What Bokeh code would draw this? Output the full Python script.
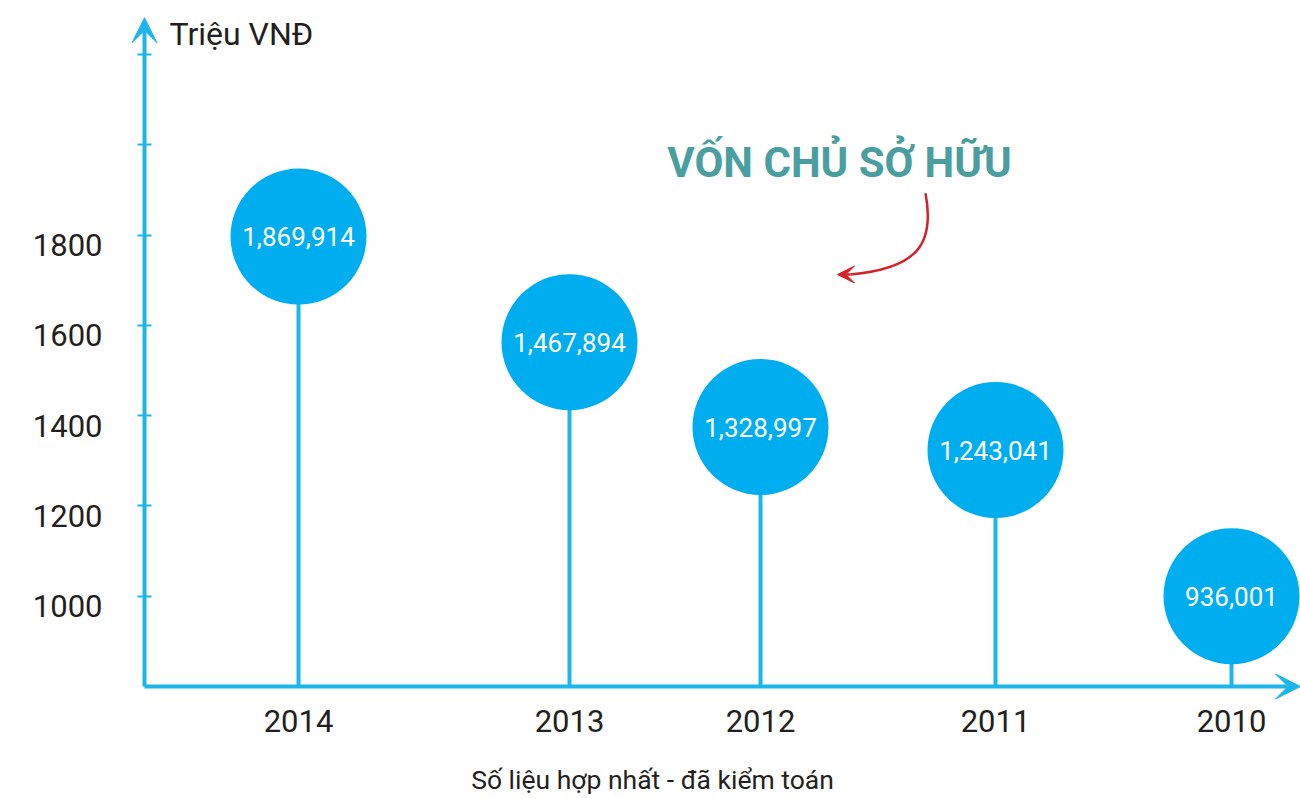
from bokeh.plotting import figure
from bokeh.models import Range1d, FixedTicker, Arrow, VeeHead, Label, ColumnDataSource, LinearAxis
from bokeh.core.properties import value
from bokeh.embed import file_html
from bokeh.resources import INLINE

# ---- data ----
years = ["2014", "2013", "2012", "2011", "2010"]
equity = [1869914, 1467894, 1328997, 1243041, 936001]          # Triệu VNĐ (bubble labels)
timeline_pos = [154, 425, 616, 851, 1087]                        # position along the time axis
bubble_level = [1797, 1563, 1375, 1324, 1000]                    # bubble height read on the y axis
y_ticks = [1000, 1200, 1400, 1600, 1800, 2000, 2200]
y_tick_labels = ["1000", "1200", "1400", "1600", "1800", "", ""]

AXIS = "#1cb6ec"
BUBBLE = "#00aeef"
TEXT = "#231f20"
FONT = "Roboto"

Y_ORIGIN, Y_TIP = 800, 2282
X_ORIGIN, X_TIP = 0, 1156
LABEL_DROP = 22   # tick labels sit slightly below their tick marks (in y units)

p = figure(width=1300, height=798, output_backend="svg", toolbar_location=None,
           x_range=Range1d(-144, 1156), y_range=Range1d(551.8, 2320.2),
           min_border_left=0, min_border_right=0, min_border_top=0, min_border_bottom=0)
p.outline_line_color = None
p.grid.visible = False
p.background_fill_color = "white"
p.border_fill_color = "white"

# y axis: tick marks
ya = p.yaxis[0]
ya.fixed_location = X_ORIGIN
ya.ticker = FixedTicker(ticks=y_ticks)
ya.major_label_text_font_size = "0px"
ya.major_label_text_alpha = 0
ya.axis_line_color = None
ya.major_tick_line_color = AXIS
ya.major_tick_line_width = 2
ya.major_tick_in = 7
ya.major_tick_out = 7
ya.minor_tick_line_color = None

# y axis: tick labels
label_pos = [t - LABEL_DROP for t in y_ticks]
ya2 = LinearAxis(fixed_location=X_ORIGIN, ticker=FixedTicker(ticks=label_pos),
                 major_label_overrides={lp: l for lp, l in zip(label_pos, y_tick_labels)},
                 axis_line_color=None, major_tick_line_color=None, minor_tick_line_color=None,
                 major_tick_in=0, major_tick_out=0, major_label_standoff=42,
                 major_label_text_font=FONT, major_label_text_font_size="31px",
                 major_label_text_color=TEXT)
p.add_layout(ya2, "left")

# x axis
xa = p.xaxis[0]
xa.fixed_location = Y_ORIGIN
xa.ticker = FixedTicker(ticks=timeline_pos)
xa.major_label_overrides = {t: y for t, y in zip(timeline_pos, years)}
xa.axis_line_color = None
xa.major_tick_line_color = None
xa.minor_tick_line_color = None
xa.major_tick_in = 0
xa.major_tick_out = 0
xa.major_label_standoff = 24
xa.major_label_text_font = FONT
xa.major_label_text_font_size = "31px"
xa.major_label_text_color = TEXT

# axis lines with arrow heads
p.add_layout(Arrow(end=VeeHead(size=25, fill_color=AXIS, line_color=AXIS),
                   x_start=X_ORIGIN, y_start=Y_ORIGIN, x_end=X_ORIGIN, y_end=Y_TIP,
                   line_color=AXIS, line_width=4))
p.add_layout(Arrow(end=VeeHead(size=25, fill_color=AXIS, line_color=AXIS),
                   x_start=X_ORIGIN, y_start=Y_ORIGIN, x_end=X_TIP, y_end=Y_ORIGIN,
                   line_color=AXIS, line_width=4))

src = ColumnDataSource(dict(
    x=timeline_pos, y=bubble_level, base=[Y_ORIGIN] * len(years),
    label=[f"{v:,}" for v in equity]))

p.segment(x0="x", y0="base", x1="x", y1="y", source=src, line_color=AXIS, line_width=4)
p.scatter(x="x", y="y", source=src, size=136, fill_color=BUBBLE, line_color=None)
p.text(x="x", y="y", text="label", source=src, text_align="center", text_baseline="middle",
       text_color="white", text_font=value(FONT), text_font_size="26px")

# axis unit
p.add_layout(Label(x=25, y=2247, text="Triệu VNĐ", text_align="left", text_baseline="middle",
                   text_font=FONT, text_font_size="32px", text_color=TEXT))

# title
p.add_layout(Label(x=695, y=1961, text="VỐN CHỦ SỞ HỮU", text_align="center",
                   text_baseline="middle", text_font=FONT, text_font_size="42px",
                   text_font_style="bold", text_color="#4a9e9f"))

# red curved arrow
RED = "#d3222a"
p.bezier(x0=[781], y0=[1893], cx0=[791], cy0=[1777], cx1=[771], cy1=[1726],
         x1=[706], y1=[1713], line_color=RED, line_width=2.5)
p.add_layout(Arrow(end=VeeHead(size=17, fill_color=RED, line_color=RED),
                   x_start=706, y_start=1713, x_end=693, y_end=1713,
                   line_color=RED, line_width=2.5))

# footnote
p.add_layout(Label(x=508, y=594, text="Số liệu hợp nhất - đã kiểm toán", text_align="center",
                   text_baseline="middle", text_font=FONT, text_font_size="26.5px",
                   text_color=TEXT))

open("out.html", "w").write(file_html(p, INLINE))
